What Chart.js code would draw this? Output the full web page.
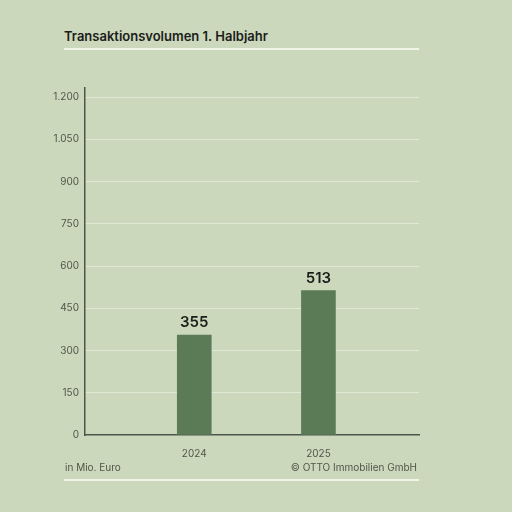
<!DOCTYPE html>
<html lang="de">
<head>
    <meta charset="UTF-8">
    <title>Transaktionsvolumen 1. Halbjahr</title>
    <script src="https://cdn.jsdelivr.net/npm/chart.js"></script>
    <style>
        html, body { margin: 0; padding: 0; }
        body { width: 512px; height: 512px; background: #cbd8bc; position: relative; overflow: hidden;
               font-family: Inter, "Noto Sans", sans-serif; }
        .title { position: absolute; left: 64px; top: 28px; font-size: 13px; font-weight: 600; color: #1b1d1a; }
        .rule { position: absolute; left: 64px; width: 355px; height: 2px; background: #f2f6ea; }
        .note { position: absolute; top: 461px; font-size: 10px; color: #4f564b; }
        #chart { position: absolute; left: 0; top: 0; }
    </style>
</head>
<body>
    <div class="title">Transaktionsvolumen 1. Halbjahr</div>
    <div class="rule" style="top: 48px;"></div>
    <canvas id="chart" width="512" height="512"></canvas>
    <div class="note" style="left: 65px;">in Mio. Euro</div>
    <div class="note" style="right: 95px;">© OTTO Immobilien GmbH</div>
    <div class="rule" style="top: 479px;"></div>

    <script>
        // data
        const years = [2024, 2025];
        const volumes = [355, 513];
        const yTicks = [0, 150, 300, 450, 600, 750, 900, 1050, 1200];

        const valueLabels = {
            id: 'valueLabels',
            afterDatasetsDraw(chart) {
                const ctx = chart.ctx;
                const meta = chart.getDatasetMeta(0);
                ctx.save();
                ctx.font = '600 15px Inter, "Noto Sans", sans-serif';
                ctx.fillStyle = '#1b1d1a';
                ctx.textAlign = 'center';
                ctx.textBaseline = 'alphabetic';
                meta.data.forEach((bar, i) => {
                    ctx.fillText(String(volumes[i]), bar.x, bar.y - 8);
                });
                ctx.restore();
            }
        };

        new Chart(document.getElementById('chart'), {
            type: 'bar',
            data: {
                datasets: [{
                    data: years.map((y, i) => ({ x: y, y: volumes[i] })),
                    backgroundColor: '#5b7b56',
                    barThickness: 34
                }]
            },
            options: {
                responsive: false,
                animation: false,
                layout: { padding: { top: 88, right: 93, left: 0, bottom: 0 } },
                plugins: { legend: { display: false }, tooltip: { enabled: false } },
                scales: {
                    x: {
                        type: 'linear',
                        offset: false,
                        min: 2023.12,
                        max: 2025.81,
                        afterBuildTicks: s => { s.ticks = years.map(v => ({ value: v })); },
                        afterFit: s => { s.height = 77; },
                        grid: { display: false },
                        border: { display: true, color: '#4d5749', width: 1.5 },
                        ticks: {
                            padding: 5,
                            color: '#4f564b',
                            font: { family: 'Inter, "Noto Sans", sans-serif', size: 10 },
                            callback: v => String(v)
                        }
                    },
                    y: {
                        min: 0,
                        max: 1232,
                        afterBuildTicks: s => { s.ticks = yTicks.map(v => ({ value: v })); },
                        afterFit: s => { s.width = 85; },
                        grid: {
                            drawTicks: false,
                            color: ctx => ctx.tick && ctx.tick.value === 0 ? 'rgba(0,0,0,0)' : '#e0e9d5',
                            lineWidth: 1
                        },
                        border: { display: true, color: '#4d5749', width: 1.5 },
                        ticks: {
                            padding: 6,
                            color: '#4f564b',
                            font: { family: 'Inter, "Noto Sans", sans-serif', size: 10 },
                            callback: v => v.toLocaleString('de-DE')
                        }
                    }
                }
            },
            plugins: [valueLabels]
        });
    </script>
</body>
</html>
